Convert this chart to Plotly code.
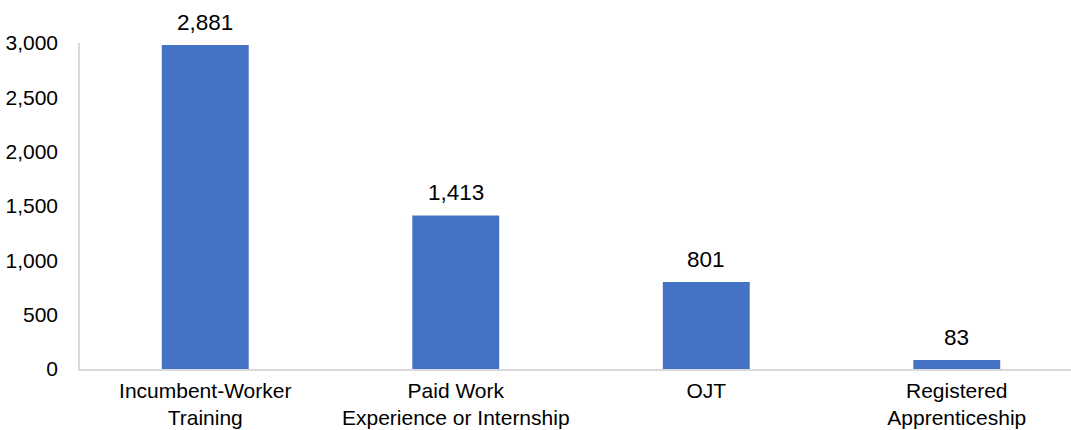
import plotly.graph_objects as go

categories = ["Incumbent-Worker<br>Training", "Paid Work<br>Experience or Internship", "OJT", "Registered<br>Apprenticeship"]
bar_values = [2981, 1413, 801, 83]
label_texts = ["2,881", "1,413", "801", "83"]
y_ticks = [0, 500, 1000, 1500, 2000, 2500, 3000]
y_tick_labels = ["0", "500", "1,000", "1,500", "2,000", "2,500", "3,000"]

FONT = "Liberation Sans, Arial, sans-serif"

xs = list(range(len(categories)))
fig = go.Figure(go.Bar(
    x=xs,
    y=bar_values,
    marker=dict(color="#4472C4", line=dict(width=0)),
    width=0.347,
))

for x, v, t in zip(xs, bar_values, label_texts):
    fig.add_annotation(
        x=x, y=v, text=t, showarrow=False,
        yanchor="bottom", yshift=8,
        font=dict(family=FONT, size=22.5, color="#000000"),
    )

fig.update_layout(
    width=1071, height=430,
    margin=dict(l=80, r=0, t=43, b=61, autoexpand=False),
    paper_bgcolor="white", plot_bgcolor="white",
    showlegend=False,
    font=dict(family=FONT, color="#000000"),
)
fig.update_xaxes(
    tickvals=xs,
    ticktext=categories,
    range=[-0.5, 3.456],
    automargin=False,
    showline=True, linecolor="#d9d9d9", linewidth=1.5,
    showgrid=False, ticks="", ticklabelstandoff=2,
    tickfont=dict(family=FONT, size=21, color="#000000"),
    zeroline=False,
)
fig.update_yaxes(
    range=[0, 3000],
    tickvals=y_ticks, ticktext=y_tick_labels,
    automargin=False,
    showline=True, linecolor="#d9d9d9", linewidth=1.5,
    showgrid=False, ticks="", ticklabelstandoff=16,
    tickfont=dict(family=FONT, size=21, color="#000000"),
    zeroline=False,
)

fig.write_html("out.html")
